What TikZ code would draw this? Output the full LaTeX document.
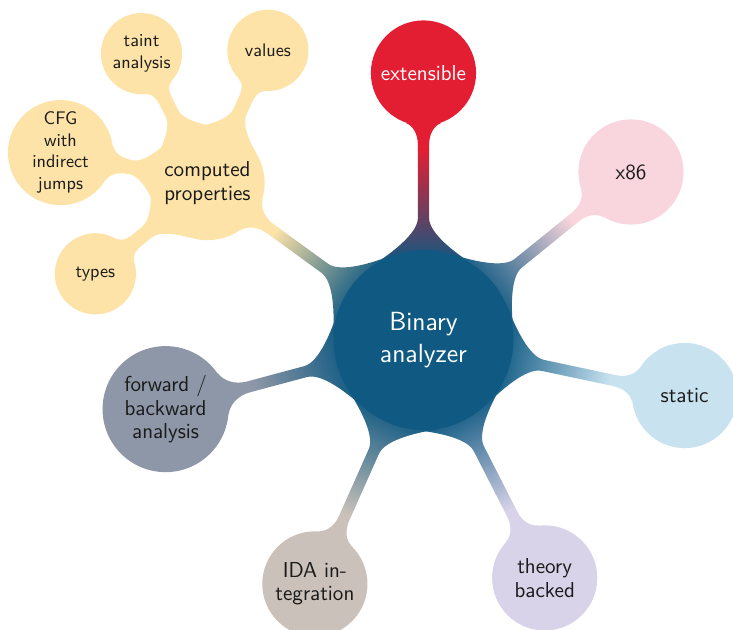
\documentclass[tikz,border=0pt]{standalone}
\usepackage{fontspec}
\usetikzlibrary{backgrounds}

\definecolor{corecol}{HTML}{0F5982}
\definecolor{extcol}{HTML}{E31E33}
\definecolor{archcol}{HTML}{F9D6DD}
\definecolor{statcol}{HTML}{C8E2F0}
\definecolor{theocol}{HTML}{D8D3E8}
\definecolor{idacol}{HTML}{C9C1BA}
\definecolor{fwdcol}{HTML}{8E97A7}
\definecolor{propcol}{HTML}{FDE3A8}
\definecolor{ink}{HTML}{1A1A1A}

% Flared bar between two circular nodes: #1 parent node, #2 child node,
% #3/#4 their colours. The colour changes along the bar and is settled
% a little before the child circle. \cbneck is half the bar width.
\def\cbneck{3pt}
\newcommand\conbar[4]{%
  \pgfpointdiff{\pgfpointanchor{#1}{center}}{\pgfpointanchor{#2}{center}}%
  \pgfgetlastxy{\cbdx}{\cbdy}%
  \pgfmathsetmacro\cbang{atan2(\cbdy,\cbdx)}%
  \pgfmathsetmacro\cbdist{veclen(\cbdx,\cbdy)}%
  \pgfpointdiff{\pgfpointanchor{#1}{center}}{\pgfpointanchor{#1}{east}}%
  \pgfgetlastxy{\cbra}{\cbtmp}%
  \pgfpointdiff{\pgfpointanchor{#2}{center}}{\pgfpointanchor{#2}{east}}%
  \pgfgetlastxy{\cbrb}{\cbtmp}%
  \pgfmathsetmacro\cbRa{\cbra}%
  \pgfmathsetmacro\cbRb{\cbrb}%
  \pgfmathsetmacro\cbfa{0.35*\cbRa}%
  \pgfmathsetmacro\cbfb{0.35*\cbRb}%
  % contact with the parent circle and the flare into the neck
  \pgfmathsetmacro\cbPx{\cbRa*cos(33)}\pgfmathsetmacro\cbPy{\cbRa*sin(33)}%
  \pgfmathsetmacro\cbCx{\cbPx+0.6*\cbfa*sin(33)}\pgfmathsetmacro\cbCy{\cbPy-0.6*\cbfa*cos(33)}%
  \pgfmathsetmacro\cbQx{\cbRa+\cbfa}\pgfmathsetmacro\cbDx{\cbQx-0.5*\cbfa}%
  % where the colour change ends
  \pgfmathsetmacro\cbMx{max(\cbdist-1.45*\cbRb,\cbQx+1)}%
  \pgfmathsetmacro\cbMo{\cbMx+0.4}%
  % neck into the child circle
  \pgfmathsetmacro\cbSx{\cbdist-\cbRb-\cbfb}\pgfmathsetmacro\cbEx{\cbSx+0.55*\cbfb}%
  \pgfmathsetmacro\cbTx{\cbdist-\cbRb*cos(20)}\pgfmathsetmacro\cbTy{\cbRb*sin(20)}%
  \pgfmathsetmacro\cbFx{\cbTx-0.45*\cbfb*sin(20)}\pgfmathsetmacro\cbFy{\cbTy-0.45*\cbfb*cos(20)}%
  \begin{scope}[transform canvas={shift={(#1.center)}, rotate=\cbang}]
    \shade[left color=#3, right color=#4]
      (\cbPx pt,\cbPy pt) .. controls (\cbCx pt,\cbCy pt) and (\cbDx pt,\cbneck) .. (\cbQx pt,\cbneck)
      -- (\cbMo pt,\cbneck) -- (\cbMo pt,-\cbneck) -- (\cbQx pt,-\cbneck)
      .. controls (\cbDx pt,-\cbneck) and (\cbCx pt,-\cbCy pt) .. (\cbPx pt,-\cbPy pt)
      -- cycle;
    \fill[#4]
      (\cbMx pt,\cbneck) -- (\cbSx pt,\cbneck)
      .. controls (\cbEx pt,\cbneck) and (\cbFx pt,\cbFy pt) .. (\cbTx pt,\cbTy pt)
      -- (\cbTx pt,-\cbTy pt) .. controls (\cbFx pt,-\cbFy pt) and (\cbEx pt,-\cbneck) .. (\cbSx pt,-\cbneck)
      -- (\cbMx pt,-\cbneck) -- cycle;
  \end{scope}}

\begin{document}
\begin{tikzpicture}[
  hub/.style={circle, fill=corecol, text=white, inner sep=0pt,
    minimum size=3.37cm, align=center,
    font=\sffamily\fontsize{14}{17}\selectfont},
  topic/.style={circle, inner sep=0pt, minimum size=1.97cm, align=center,
    text=ink, font=\sffamily\fontsize{11.5}{12.5}\selectfont},
  subtopic/.style={circle, inner sep=0pt, minimum size=1.52cm, align=center,
    text=ink, fill=propcol, font=\sffamily\fontsize{9.7}{11.5}\selectfont},
]
\useasboundingbox (-7.93,-5.412) rectangle (5.796,6.367);

% central concept
\node[hub] (core) at (0,0) {Binary\\analyzer};

% first ring
\node[topic, fill=extcol, text=white] (ext) at (90:5) {extensible};
\node[topic, fill=archcol] (arch) at (39:5) {x86};
\node[topic, fill=statcol] (stat) at (-12:5) {static};
\node[topic, fill=theocol] (theo) at (-63:5) {theory\\backed};
\node[topic, fill=idacol] (ida) at (-114:5) {IDA in-\\tegration};
\node[topic, fill=fwdcol, minimum size=2.36cm] (fwd) at (-165:5) {forward /\\backward\\analysis};
\node[topic, fill=propcol, minimum size=2.14cm] (prop) at (144:5) {computed\\properties};

% second ring around the computed properties
\node[subtopic] (taint) at ([shift={(117:2.72)}]prop.center) {taint\\analysis};
\node[subtopic] (vals) at ([shift={(65.5:2.73)}]prop.center) {values};
\node[subtopic, minimum size=1.97cm] (cfg) at ([shift={(168.3:2.81)}]prop.center) {CFG\\with\\indirect\\jumps};
\node[subtopic] (types) at ([shift={(219:2.70)}]prop.center) {types};

% connection bars, kept under the bubbles
\begin{scope}[on background layer]
  \conbar{core}{ext}{corecol}{extcol}
  \conbar{core}{arch}{corecol}{archcol}
  \conbar{core}{stat}{corecol}{statcol}
  \conbar{core}{theo}{corecol}{theocol}
  \conbar{core}{ida}{corecol}{idacol}
  \conbar{core}{fwd}{corecol}{fwdcol}
  \conbar{core}{prop}{corecol}{propcol}
  \def\cbneck{3.8pt}
  \conbar{prop}{taint}{propcol}{propcol}
  \conbar{prop}{vals}{propcol}{propcol}
  \conbar{prop}{cfg}{propcol}{propcol}
  \conbar{prop}{types}{propcol}{propcol}
\end{scope}
\end{tikzpicture}
\end{document}
